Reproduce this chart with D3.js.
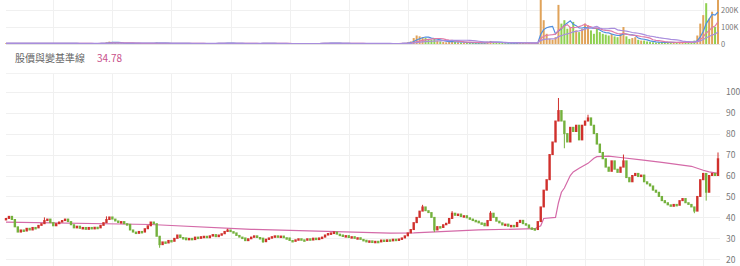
<!DOCTYPE html>
<html>
<head>
<meta charset="utf-8">
<script src="https://cdnjs.cloudflare.com/ajax/libs/d3/7.8.5/d3.min.js"></script>
<style>
body { margin: 0; background: #fff; }
svg text { font-family: "Noto Sans CJK TC", "Noto Sans", sans-serif; }
</style>
</head>
<body>
<div id="chart"></div>
<script>
// closing prices, one per bar (open is taken from the bar before)
var closes = [
    39.5, 40.5, 39, 35.5, 33, 34, 33.5, 34.8, 34, 35.2,
    35, 36.2, 37, 38.5, 39.2, 37.5, 36, 37, 37.8, 38.5,
    39.2, 38, 36.5, 35, 35.8, 34.8, 35.2, 34.3, 35.2, 34.5,
    35.3, 35, 36.2, 37.5, 39, 40.2, 39.2, 38.3, 37.6, 38,
    37, 36.7, 34, 33, 32.4, 33.3, 33, 34.6, 36, 37.8,
    37, 31, 27, 28.3, 27.8, 29, 28.6, 30, 31.6, 30.4,
    30.2, 29.3, 30, 29.4, 30.6, 30, 30.8, 31, 30.3, 31.2,
    31.8, 30.8, 31.6, 32.2, 33.3, 34, 33.2, 32.6, 31.4, 30.6,
    30.2, 28.9, 29.8, 30.6, 31.2, 30.4, 30.1, 28.4, 29.6, 30.2,
    30.8, 31.2, 30.6, 31.1, 30.3, 30.2, 29, 28.6, 29.3, 29.8,
    29.3, 29.2, 29.8, 29.2, 30.1, 29.4, 30.2, 30.6, 31.6, 32.3,
    32.6, 33, 32, 31.6, 31, 31.3, 30.4, 30.8, 30, 30.3,
    29.5, 29.1, 28.3, 28.8, 28, 28.6, 28.3, 29.2, 28.5, 29.3,
    28.8, 29.6, 29, 29.7, 30.2, 31.2, 32.6, 34.2, 37.5, 40,
    43, 45, 43.2, 42.3, 40, 34, 35.6, 35.2, 36.5, 37.2,
    39.5, 42, 41, 41.6, 40.4, 40.8, 39.8, 39.2, 38.6, 38.2,
    37.4, 37.2, 36, 38.5, 42, 40, 38.2, 37.4, 36.4, 36.8,
    35.8, 36.2, 35.6, 37.6, 38.6, 37, 36.4, 35, 34.6, 34.2,
    38, 45, 53, 58, 70, 76, 86, 91, 86, 80,
    76, 83, 81, 84, 77, 84, 86, 87.5, 84, 80,
    75, 71, 68, 64, 62, 67, 63, 61.5, 64, 67,
    59, 57, 60, 61, 59.5, 60.2, 57, 56, 55, 53,
    52, 50, 48, 47, 46, 45.3, 46.2, 45.8, 48, 49,
    47, 46.2, 45, 43, 50, 58, 61, 52, 60, 61,
    60, 68
];

// traded volume in thousands, one per bar
var volumes = [
    4, 3, 3, 5, 4, 3, 3, 3, 4, 3,
    3, 3, 4, 5, 4, 3, 3, 3, 3, 4,
    4, 3, 3, 3, 3, 3, 3, 3, 3, 3,
    3, 3, 4, 6, 10, 14, 12, 6, 4, 3,
    3, 3, 5, 4, 3, 3, 3, 3, 4, 5,
    4, 8, 6, 4, 3, 3, 3, 3, 4, 3,
    3, 3, 3, 3, 3, 3, 3, 3, 3, 3,
    3, 3, 4, 5, 6, 5, 4, 3, 3, 3,
    3, 3, 3, 3, 3, 3, 3, 4, 3, 3,
    3, 3, 3, 3, 3, 3, 3, 3, 3, 3,
    3, 3, 3, 3, 3, 3, 3, 4, 5, 6,
    6, 5, 4, 3, 3, 3, 3, 3, 3, 3,
    3, 3, 3, 3, 3, 3, 3, 3, 3, 3,
    3, 3, 3, 3, 4, 6, 10, 15, 35, 50,
    45, 40, 35, 30, 25, 30, 20, 15, 12, 10,
    14, 18, 12, 10, 9, 8, 8, 7, 6, 6,
    6, 7, 8, 14, 18, 10, 8, 6, 6, 5,
    5, 5, 5, 6, 8, 6, 5, 5, 4, 4,
    10, 265, 140, 60, 30, 25, 40, 230, 120, 140,
    90, 100, 130, 80, 70, 90, 120, 110, 80, 60,
    90, 70, 60, 55, 50, 60, 45, 40, 60, 100,
    45, 30, 35, 40, 25, 20, 20, 15, 12, 10,
    8, 10, 12, 10, 8, 8, 10, 8, 12, 10,
    8, 10, 8, 20, 50, 120, 170, 240, 150, 190,
    100, 260
];

// baseline line: [bar index, value]
var baseline = [
    [0, 37.7], [49, 36.6], [83, 34.3], [130, 32.5], [138, 32.6], [160, 34],
    [179, 34.6], [181, 36], [182, 39.5], [186, 40], [187, 47], [188, 52],
    [189, 54], [191, 60], [192, 61.7], [194, 63.5], [197, 65.8], [199, 68.2],
    [200, 69], [204, 69.2], [208, 68.6], [215, 67.5], [222, 66.3], [232, 64.4],
    [236, 62.5], [238, 61.7], [241, 61]
];

// visible wicks: [bar index, value]
var wickHigh = [[13, 40], [34, 40.5], [75, 34.6], [111, 33.4], [141, 46], [151, 43],
    [164, 43], [187, 97], [197, 89], [209, 70], [241, 71]];
var wickLow = [[52, 25.5], [87, 27.8], [145, 33], [189, 73], [233, 42], [237, 48]];

var priceTicks = [20, 30, 40, 50, 60, 70, 80, 90, 100];
var volumeTicks = [0, 100, 200];
var volumeLabels = ["0", "100K", "200K"];
var gridIdx = [16, 36, 56, 76, 96, 116, 136, 156, 176, 196, 216, 236];

var legendLabel = "股價與變基準線";
var legendValue = "34.78";

var width = 740, height = 266;
var plot_left = 6, plot_right = 720;
var up_color = "#d0302c", down_color = "#74b13d";

var x = d3.scaleLinear().domain([0, closes.length - 1]).range([6, 718]);
var price_y = d3.scaleLinear().domain([20, 100]).range([259.3, 91.7]);
var vol_y = d3.scaleLinear().domain([0, 200]).range([44, 10]);

var svg = d3.select("#chart")
    .append("svg")
    .attr("width", width)
    .attr("height", height);

// Grid ------------------------------
svg.append("g").selectAll("line")
    .data(gridIdx)
    .enter().append("line")
    .attr("x1", function (d) { return Math.round(x(d)) + 0.5; })
    .attr("x2", function (d) { return Math.round(x(d)) + 0.5; })
    .attr("y1", 0).attr("y2", 44)
    .style("stroke", "#f0f0f0");

svg.append("g").selectAll("line")
    .data(gridIdx)
    .enter().append("line")
    .attr("x1", function (d) { return Math.round(x(d)) + 0.5; })
    .attr("x2", function (d) { return Math.round(x(d)) + 0.5; })
    .attr("y1", 73).attr("y2", height)
    .style("stroke", "#f0f0f0");

svg.append("g").selectAll("line")
    .data(volumeTicks)
    .enter().append("line")
    .attr("x1", plot_left).attr("x2", plot_right)
    .attr("y1", function (d) { return Math.round(vol_y(d)) + 0.5; })
    .attr("y2", function (d) { return Math.round(vol_y(d)) + 0.5; })
    .style("stroke", function (d) { return d === 0 ? "#e4e4e4" : "#f0f0f0"; });

svg.append("line")
    .attr("x1", plot_left).attr("x2", plot_right)
    .attr("y1", 73.5).attr("y2", 73.5)
    .style("stroke", "#f2f2f2");

svg.append("g").selectAll("line")
    .data(priceTicks)
    .enter().append("line")
    .attr("x1", plot_left).attr("x2", plot_right)
    .attr("y1", function (d) { return Math.round(price_y(d)) + 0.5; })
    .attr("y2", function (d) { return Math.round(price_y(d)) + 0.5; })
    .style("stroke", "#f0f0f0");

// Axes labels ------------------------------
var vol_axis = d3.axisRight(vol_y)
    .tickValues(volumeTicks)
    .tickSize(0).tickPadding(0)
    .tickFormat(function (d, i) { return volumeLabels[i]; });

var price_axis = d3.axisRight(price_y)
    .tickValues(priceTicks)
    .tickSize(0).tickPadding(0);

var vol_axis_g = svg.append("g")
    .attr("transform", "translate(721,0)")
    .call(vol_axis);
vol_axis_g.select(".domain").remove();
vol_axis_g.selectAll("text")
    .style("font-size", "7.5px")
    .style("fill", "#777");

var price_axis_g = svg.append("g")
    .attr("transform", "translate(726,0)")
    .call(price_axis);
price_axis_g.select(".domain").remove();
price_axis_g.selectAll("text")
    .style("font-size", "8.5px")
    .style("fill", "#777");

// Legend ------------------------------
svg.append("text")
    .attr("x", 15).attr("y", 62)
    .style("font-size", "10px")
    .style("fill", "#666")
    .text(legendLabel);

svg.append("text")
    .attr("x", 97).attr("y", 62)
    .style("font-size", "10px")
    .style("fill", "#c8508a")
    .text(legendValue);

// Volume panel ------------------------------
var vol_clip = svg.append("clipPath").attr("id", "vol_clip")
    .append("rect").attr("x", 0).attr("y", 0).attr("width", plot_right).attr("height", 45);
var vol_view = svg.append("g").attr("clip-path", "url(#vol_clip)");

function isUp(i) {
    return i === 0 || closes[i] >= closes[i - 1];
}

vol_view.append("g").selectAll("rect")
    .data(volumes)
    .enter().append("rect")
    .attr("x", function (d, i) { return x(i) - 1; })
    .attr("width", 2)
    .attr("y", function (d) { return vol_y(d); })
    .attr("height", function (d) { return 44 - vol_y(d); })
    .style("fill", function (d, i) { return isUp(i) ? "#e0a35a" : "#8fd050"; });

function movingAvg(n) {
    return volumes.map(function (d, i) {
        return d3.mean(volumes.slice(Math.max(0, i - n + 1), i + 1));
    });
}

var vol_line = d3.line()
    .x(function (d, i) { return x(i); })
    .y(function (d) { return vol_y(d); });

[[5, "#4f8fe0"], [10, "#e07aa8"], [20, "#a88ddd"]].forEach(function (m) {
    vol_view.append("path")
        .datum(movingAvg(m[0]))
        .attr("d", vol_line)
        .style("fill", "none")
        .style("stroke", m[1])
        .style("stroke-width", 1.2);
});

// Price panel ------------------------------
var price_clip = svg.append("clipPath").attr("id", "price_clip")
    .append("rect").attr("x", 0).attr("y", 74).attr("width", plot_right).attr("height", height - 74);
var price_view = svg.append("g").attr("clip-path", "url(#price_clip)");

price_view.append("path")
    .datum(baseline)
    .attr("d", d3.line()
        .x(function (d) { return x(d[0]); })
        .y(function (d) { return price_y(d[1]); }))
    .style("fill", "none")
    .style("stroke", "#d46aa8")
    .style("stroke-width", 1.2);

var wick_g = price_view.append("g");
wick_g.selectAll("line")
    .data(wickHigh.concat(wickLow))
    .enter().append("line")
    .attr("x1", function (d) { return x(d[0]); })
    .attr("x2", function (d) { return x(d[0]); })
    .attr("y1", function (d) { return price_y(d[1]); })
    .attr("y2", function (d) { return price_y(closes[d[0]]); })
    .style("stroke", function (d) { return isUp(d[0]) ? up_color : down_color; });

price_view.append("g").selectAll("rect")
    .data(closes)
    .enter().append("rect")
    .attr("x", function (d, i) { return x(i) - 1.2; })
    .attr("width", 2.4)
    .attr("y", function (d, i) {
        var o = i === 0 ? d : closes[i - 1];
        return price_y(Math.max(o, d)) - 0.5;
    })
    .attr("height", function (d, i) {
        var o = i === 0 ? d : closes[i - 1];
        return Math.max(2.5, Math.abs(price_y(o) - price_y(d)) + 1);
    })
    .style("fill", function (d, i) { return isUp(i) ? up_color : down_color; });
</script>
</body>
</html>
